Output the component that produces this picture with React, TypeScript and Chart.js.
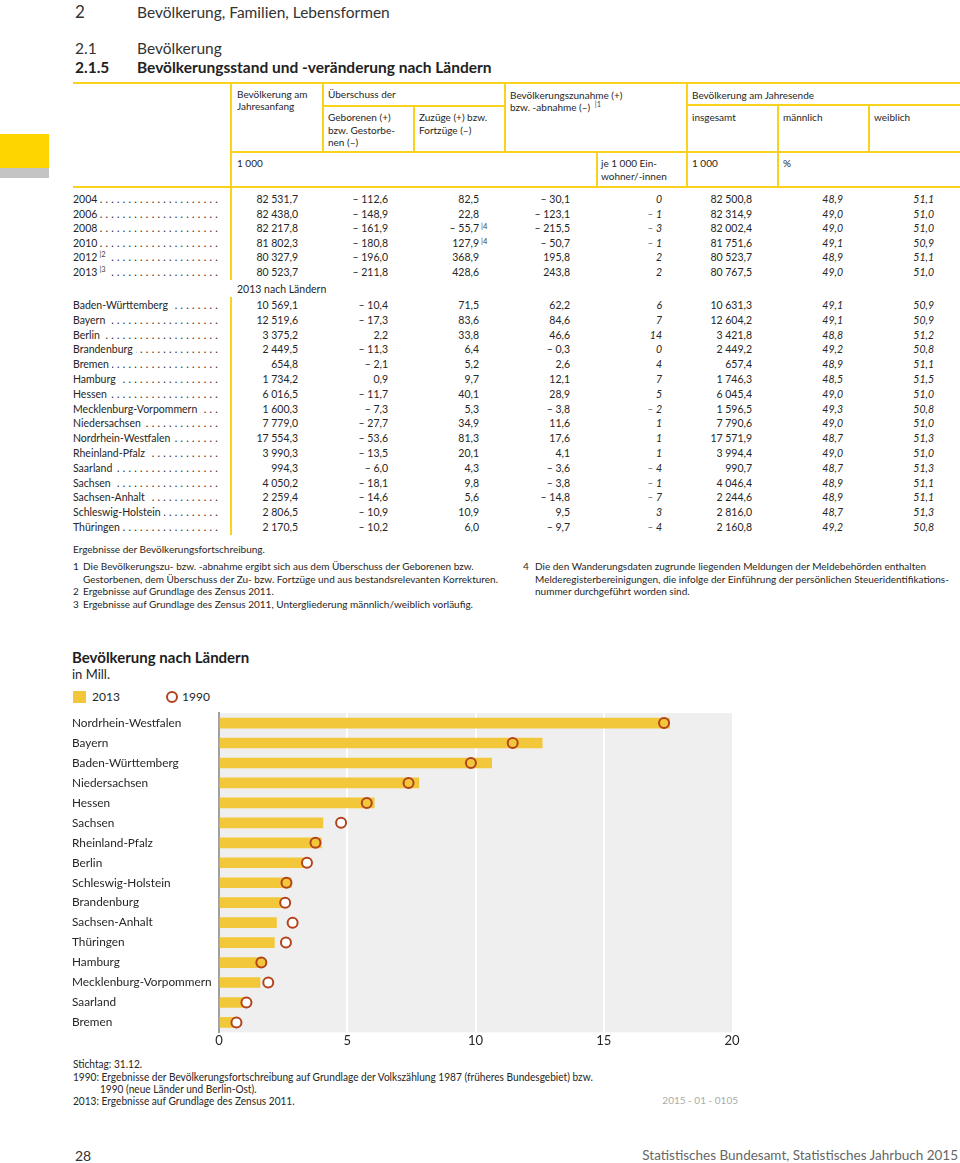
import React, { useEffect, useRef } from "react";
import { Chart, registerables } from "chart.js";

Chart.register(...registerables);

// ---------- chart data ----------
const chartLands = [
  "Nordrhein-Westfalen", "Bayern", "Baden-Württemberg", "Niedersachsen", "Hessen", "Sachsen",
  "Rheinland-Pfalz", "Berlin", "Schleswig-Holstein", "Brandenburg", "Sachsen-Anhalt", "Thüringen",
  "Hamburg", "Mecklenburg-Vorpommern", "Saarland", "Bremen",
];
const pop2013 = [17.57, 12.60, 10.63, 7.79, 6.05, 4.05, 3.99, 3.42, 2.82, 2.45, 2.24, 2.16, 1.75, 1.60, 0.99, 0.66];
const pop1990 = [17.35, 11.45, 9.82, 7.39, 5.76, 4.76, 3.76, 3.43, 2.63, 2.58, 2.87, 2.61, 1.65, 1.92, 1.07, 0.68];
const xMin = 0;
const xMax = 20;
const xStep = 5;

// ---------- table data ----------
const yearLabels = ["2004", "2006", "2008", "2010", "2012", "2013"];
const yearNotes = ["", "", "", "", "2", "3"];
const yearStart = [82531.7, 82438.0, 82217.8, 81802.3, 80327.9, 80523.7];
const yearBirths = [-112.6, -148.9, -161.9, -180.8, -196.0, -211.8];
const yearMigration = [82.5, 22.8, -55.7, 127.9, 368.9, 428.6];
const yearMigrationNotes = ["", "", "4", "4", "", ""];
const yearChange = [-30.1, -123.1, -215.5, -50.7, 195.8, 243.8];
const yearChangePer1000 = [0, -1, -3, -1, 2, 2];
const yearEnd = [82500.8, 82314.9, 82002.4, 81751.6, 80523.7, 80767.5];
const yearMale = [48.9, 49.0, 49.0, 49.1, 48.9, 49.0];
const yearFemale = [51.1, 51.0, 51.0, 50.9, 51.1, 51.0];

const stateLabels = [
  "Baden-Württemberg", "Bayern", "Berlin", "Brandenburg", "Bremen", "Hamburg", "Hessen",
  "Mecklenburg-Vorpommern", "Niedersachsen", "Nordrhein-Westfalen", "Rheinland-Pfalz", "Saarland",
  "Sachsen", "Sachsen-Anhalt", "Schleswig-Holstein", "Thüringen",
];
const stateStart = [10569.1, 12519.6, 3375.2, 2449.5, 654.8, 1734.2, 6016.5, 1600.3, 7779.0, 17554.3, 3990.3, 994.3, 4050.2, 2259.4, 2806.5, 2170.5];
const stateBirths = [-10.4, -17.3, 2.2, -11.3, -2.1, 0.9, -11.7, -7.3, -27.7, -53.6, -13.5, -6.0, -18.1, -14.6, -10.9, -10.2];
const stateMigration = [71.5, 83.6, 33.8, 6.4, 5.2, 9.7, 40.1, 5.3, 34.9, 81.3, 20.1, 4.3, 9.8, 5.6, 10.9, 6.0];
const stateChange = [62.2, 84.6, 46.6, -0.3, 2.6, 12.1, 28.9, -3.8, 11.6, 17.6, 4.1, -3.6, -3.8, -14.8, 9.5, -9.7];
const stateChangePer1000 = [6, 7, 14, 0, 4, 7, 5, -2, 1, 1, 1, -4, -1, -7, 3, -4];
const stateEnd = [10631.3, 12604.2, 3421.8, 2449.2, 657.4, 1746.3, 6045.4, 1596.5, 7790.6, 17571.9, 3994.4, 990.7, 4046.4, 2244.6, 2816.0, 2160.8];
const stateMale = [49.1, 49.1, 48.8, 49.2, 48.9, 48.5, 49.0, 49.3, 49.0, 48.7, 49.0, 48.7, 48.9, 48.9, 48.7, 49.2];
const stateFemale = [50.9, 50.9, 51.2, 50.8, 51.1, 51.5, 51.0, 50.8, 51.0, 51.3, 51.0, 51.3, 51.1, 51.1, 51.3, 50.8];

// ---------- styles ----------
const YELLOW = "#f2c83a";
const RUST = "#b4421c";
const LINE = "#f8d21c";
const TEXT = "#262626";
const FONT = 'Lato, "Noto Sans", sans-serif';

const colRight = [298, 388, 479, 570, 662, 752, 843, 934];
const colItalic = [false, false, false, false, true, false, true, true];
const colDecimals = [1, 1, 1, 1, 0, 1, 1, 1];

function fmt(v: number, dec: number): string {
  const neg = v < 0;
  const s = Math.abs(v).toFixed(dec);
  const parts = s.split(".");
  const int = parts[0].replace(/\B(?=(\d{3})+(?!\d))/g, " ");
  return (neg ? "– " : "") + int + (parts[1] ? "," + parts[1] : "");
}

function T(props: { x: number; y: number; size?: number; lh?: number; bold?: boolean; italic?: boolean; color?: string; family?: string; right?: boolean; children: React.ReactNode; style?: React.CSSProperties }) {
  const size = props.size ?? 10.5;
  const lh = props.lh ?? Math.round(size * 1.2);
  const base: React.CSSProperties = {
    position: "absolute",
    top: props.y - lh / 2,
    fontSize: size,
    lineHeight: lh + "px",
    fontWeight: props.bold ? 700 : 400,
    fontStyle: props.italic ? "italic" : "normal",
    color: props.color ?? TEXT,
    fontFamily: props.family ?? FONT,
    whiteSpace: "nowrap",
  };
  if (props.right) base.right = 960 - props.x;
  else base.left = props.x;
  return <div style={{ ...base, ...props.style }}>{props.children}</div>;
}

function N(props: { x: number; y: number; children: React.ReactNode }) {
  return (
    <T x={props.x} y={props.y} size={11} style={{ transform: "scaleX(0.92)", transformOrigin: "left center" }}>
      {props.children}
    </T>
  );
}

function Line(props: { x: number; y: number; w: number; h: number; color?: string }) {
  return <div style={{ position: "absolute", left: props.x, top: props.y, width: props.w, height: props.h, background: props.color ?? LINE }} />;
}

function Sup(props: { children: React.ReactNode }) {
  return <span style={{ fontSize: 7.5, position: "relative", top: -4, marginLeft: 2, color: "#444" }}>|{props.children}</span>;
}

function LeaderLabel(props: { y: number; label: string; note?: string }) {
  return (
    <div style={{ position: "absolute", left: 73, top: props.y - 7, width: 148, height: 14, display: "flex", fontSize: 10.5, lineHeight: "14px", fontFamily: FONT, color: TEXT, whiteSpace: "nowrap" }}>
      <span>{props.label}{props.note ? <Sup>{props.note}</Sup> : null}</span>
      <span style={{ flex: 1, overflow: "hidden", direction: "rtl", letterSpacing: 3.3, marginLeft: 3 }}>
        {"...................................................."}
      </span>
    </div>
  );
}

function DataRow(props: { y: number; label: string; note?: string; values: number[]; migNote?: string }) {
  return (
    <>
      <LeaderLabel y={props.y} label={props.label} note={props.note} />
      {props.values.map((v, i) => (
        <T key={i} x={colRight[i]} y={props.y} right italic={colItalic[i]} lh={14}>{fmt(v, colDecimals[i])}</T>
      ))}
      {props.migNote ? (
        <T x={481} y={props.y - 1} size={7.5} color="#444" lh={10}>|{props.migNote}</T>
      ) : null}
    </>
  );
}

function PopChart() {
  const ref = useRef<HTMLCanvasElement>(null);
  useEffect(() => {
    if (!ref.current) return;
    Chart.defaults.font.family = FONT;
    const bgPlugin = {
      id: "plotBg",
      beforeDraw(chart: any) {
        const { ctx, chartArea: a } = chart;
        ctx.save();
        ctx.fillStyle = "#efefef";
        ctx.fillRect(a.left, a.top, a.right - a.left, a.bottom - a.top);
        ctx.restore();
      },
    };
    const chart = new Chart(ref.current, {
      type: "bar",
      data: {
        labels: chartLands,
        datasets: [
          {
            type: "line",
            label: "1990",
            data: pop1990,
            showLine: false,
            indexAxis: "y",
            pointRadius: 5,
            pointHoverRadius: 5,
            pointBorderWidth: 2,
            pointBorderColor: RUST,
            pointBackgroundColor: pop1990.map((v, i) => (v <= pop2013[i] ? YELLOW : "#ffffff")),
            order: 0,
          } as any,
          {
            type: "bar",
            label: "2013",
            data: pop2013,
            backgroundColor: YELLOW,
            barThickness: 10,
            order: 1,
          },
        ],
      },
      options: {
        indexAxis: "y",
        animation: false,
        responsive: false,
        maintainAspectRatio: false,
        layout: { padding: { top: 6, right: 12, left: 0, bottom: 0 } },
        plugins: { legend: { display: false }, tooltip: { enabled: false } },
        scales: {
          x: {
            min: xMin,
            max: xMax,
            ticks: { stepSize: xStep, color: TEXT, font: { size: 13 }, padding: 1 },
            grid: {
              color: (c: any) => (c.tick && (c.tick.value === xMin || c.tick.value === xMax) ? "rgba(0,0,0,0)" : "#ffffff"),
              lineWidth: 2,
              drawTicks: false,
            },
            border: { display: false },
          },
          y: {
            grid: { display: false, drawTicks: false },
            border: { display: true, color: "#a0a0a0", width: 2 },
            ticks: { crossAlign: "far", color: TEXT, font: { size: 11.8 }, padding: 0 },
            afterFit(scale: any) {
              scale.width = 147;
            },
          },
        },
      } as any,
      plugins: [bgPlugin],
    });
    return () => chart.destroy();
  }, []);
  return <canvas ref={ref} width={672} height={344} style={{ position: "absolute", left: 72, top: 706, width: 672, height: 344 }} />;
}

export default function App() {
  const yearY = (i: number) => 199 + i * 14.5;
  const stateY = (i: number) => 305 + i * 14.8;
  return (
    <div style={{ position: "absolute", left: 0, top: 0, width: 960, height: 1163, overflow: "hidden", background: "#fff", fontFamily: FONT, color: TEXT }}>
      {/* page heading */}
      <T x={75} y={12} size={17} color="#333">2</T>
      <T x={137} y={12} size={15.5} color="#333">Bevölkerung, Familien, Lebensformen</T>
      <T x={75} y={48} size={15.5} color="#333">2.1</T>
      <T x={137} y={48} size={15.5} color="#333">Bevölkerung</T>
      <T x={75} y={67} size={15.5} bold color="#222">2.1.5</T>
      <T x={137} y={67} size={15.5} bold color="#222">Bevölkerungsstand und -veränderung nach Ländern</T>

      {/* side marker */}
      <div style={{ position: "absolute", left: 0, top: 134, width: 49, height: 34, background: "#ffd500" }} />
      <div style={{ position: "absolute", left: 0, top: 168, width: 49, height: 10, background: "#c4c4c4" }} />

      {/* table rules */}
      <Line x={73} y={82} w={887} h={2} />
      <Line x={230} y={83} w={2} h={197} />
      <Line x={230} y={297} w={2} h={238} />
      <Line x={322} y={83} w={1.5} h={69} />
      <Line x={322} y={105} w={182} h={1.5} />
      <Line x={413} y={105} w={1.5} h={47} />
      <Line x={504} y={83} w={1.5} h={69} />
      <Line x={596} y={152} w={1.5} h={35} />
      <Line x={686} y={83} w={1.5} h={104} />
      <Line x={686} y={104} w={274} h={1.5} />
      <Line x={777} y={104} w={1.5} h={83} />
      <Line x={868} y={104} w={1.5} h={48} />
      <Line x={231} y={151} w={729} h={1.5} />
      <Line x={73} y={186} w={887} h={2} />

      {/* table header */}
      <T x={237} y={94} size={10}>Bevölkerung am</T>
      <T x={237} y={106} size={10}>Jahresanfang</T>
      <T x={328} y={94} size={10}>Überschuss der</T>
      <T x={328} y={117} size={10}>Geborenen (+)</T>
      <T x={328} y={129.5} size={10}>bzw. Gestorbe-</T>
      <T x={328} y={142} size={10}>nen (–)</T>
      <T x={419} y={117} size={10}>Zuzüge (+) bzw.</T>
      <T x={419} y={129.5} size={10}>Fortzüge (–)</T>
      <T x={510} y={95} size={10}>Bevölkerungszunahme (+)</T>
      <T x={510} y={107} size={10}>bzw. -abnahme (–) <Sup>1</Sup></T>
      <T x={692} y={95} size={10}>Bevölkerung am Jahresende</T>
      <T x={692} y={117} size={10}>insgesamt</T>
      <T x={783} y={117} size={10}>männlich</T>
      <T x={874} y={117} size={10}>weiblich</T>
      <T x={237} y={163} size={10}>1 000</T>
      <T x={601} y={163} size={10}>je 1 000 Ein-</T>
      <T x={601} y={176} size={10}>wohner/-innen</T>
      <T x={692} y={163} size={10}>1 000</T>
      <T x={783} y={163} size={10}>%</T>

      {/* years */}
      {yearLabels.map((lab, i) => (
        <DataRow
          key={lab}
          y={yearY(i)}
          label={lab}
          note={yearNotes[i]}
          migNote={yearMigrationNotes[i]}
          values={[yearStart[i], yearBirths[i], yearMigration[i], yearChange[i], yearChangePer1000[i], yearEnd[i], yearMale[i], yearFemale[i]]}
        />
      ))}
      <T x={237} y={289} size={10.5}>2013 nach Ländern</T>
      {stateLabels.map((lab, i) => (
        <DataRow
          key={lab}
          y={stateY(i)}
          label={lab}
          values={[stateStart[i], stateBirths[i], stateMigration[i], stateChange[i], stateChangePer1000[i], stateEnd[i], stateMale[i], stateFemale[i]]}
        />
      ))}

      {/* table footnotes */}
      <T x={73} y={549} size={10}>Ergebnisse der Bevölkerungsfortschreibung.</T>
      <T x={73} y={566} size={10}>1</T>
      <T x={83} y={566} size={10}>Die Bevölkerungszu- bzw. -abnahme ergibt sich aus dem Überschuss der Geborenen bzw.</T>
      <T x={83} y={578.5} size={10}>Gestorbenen, dem Überschuss der Zu- bzw. Fortzüge und aus bestandsrelevanten Korrekturen.</T>
      <T x={73} y={591} size={10}>2</T>
      <T x={83} y={591} size={10}>Ergebnisse auf Grundlage des Zensus 2011.</T>
      <T x={73} y={603.5} size={10}>3</T>
      <T x={83} y={603.5} size={10}>Ergebnisse auf Grundlage des Zensus 2011, Untergliederung männlich/weiblich vorläufig.</T>
      <T x={523} y={566} size={10}>4</T>
      <T x={535} y={566} size={10}>Die den Wanderungsdaten zugrunde liegenden Meldungen der Meldebehörden enthalten</T>
      <T x={535} y={578.5} size={10}>Melderegisterbereinigungen, die infolge der Einführung der persönlichen Steueridentifikations-</T>
      <T x={535} y={591} size={10}>nummer durchgeführt worden sind.</T>

      {/* chart title and legend */}
      <T x={72} y={657} size={15} bold color="#1e1e1e">Bevölkerung nach Ländern</T>
      <T x={72} y={674} size={13}>in Mill.</T>
      <div style={{ position: "absolute", left: 73, top: 691, width: 13, height: 12, background: YELLOW }} />
      <T x={92} y={697} size={12}>2013</T>
      <div style={{ position: "absolute", left: 166, top: 691, width: 8, height: 8, border: `2px solid ${RUST}`, borderRadius: "50%", background: "#fff" }} />
      <T x={182} y={697} size={12}>1990</T>

      <PopChart />

      {/* chart notes */}
      <N x={73} y={1063}>Stichtag: 31.12.</N>
      <N x={73} y={1076}>1990: Ergebnisse der Bevölkerungsfortschreibung auf Grundlage der Volkszählung 1987 (früheres Bundesgebiet) bzw.</N>
      <N x={100} y={1088}>1990 (neue Länder und Berlin-Ost).</N>
      <N x={73} y={1100}>2013: Ergebnisse auf Grundlage des Zensus 2011.</N>
      <T x={738} y={1100} size={10} right color="#aaaaaa">2015 - 01 - 0105</T>

      {/* page footer */}
      <T x={75} y={1155} size={14} color="#333">28</T>
      <T x={958} y={1155} size={13.5} right color="#666">Statistisches Bundesamt, Statistisches Jahrbuch 2015</T>
    </div>
  );
}
